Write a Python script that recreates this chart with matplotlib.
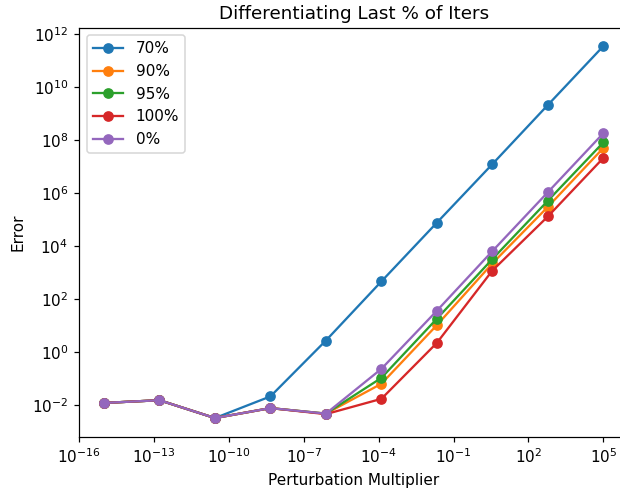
import numpy as np
import matplotlib
matplotlib.use("Agg")
import matplotlib.pyplot as plt

# Perturbation multipliers (log-spaced from 1e-15 to 1e5)
multipliers = np.logspace(-15, 5, 10)

labels = ["70%", "90%", "95%", "100%", "0%"]

err_70 = [0.0119, 0.0151, 0.0032, 0.021, 2.7, 460, 7.6e4, 1.23e7, 2.1e9, 3.5e11]
err_90 = [0.0119, 0.0151, 0.0032, 0.0076, 0.0047, 0.063, 10.3, 2200, 3.0e5, 5.0e7]
err_95 = [0.0119, 0.0151, 0.0032, 0.0076, 0.0047, 0.105, 18, 3200, 5.1e5, 8.1e7]
err_100 = [0.0119, 0.0151, 0.0032, 0.0076, 0.0045, 0.017, 2.2, 1180, 1.3e5, 2.1e7]
err_0 = [0.0119, 0.0151, 0.0032, 0.0076, 0.0047, 0.23, 36, 6400, 1.07e6, 1.8e8]

series = [err_70, err_90, err_95, err_100, err_0]

DPI = 110
fig = plt.figure(figsize=(620 / DPI, 491 / DPI), dpi=DPI)
ax = fig.add_axes([79 / 620, 54 / 491, 549.3 / 620, 409.3 / 491])

for lab, vals in zip(labels, series):
    ax.plot(multipliers, vals, marker="o", label=lab)

ax.set_xscale("log")
ax.set_yscale("log")
ax.set_xticks([1e-16, 1e-13, 1e-10, 1e-7, 1e-4, 1e-1, 1e2, 1e5])
ax.set_yticks([1e-2, 1e0, 1e2, 1e4, 1e6, 1e8, 1e10, 1e12])
ax.minorticks_off()
ax.set_xlim(1e-16, 1e6)
ax.set_ylim(10 ** -3.21, 10 ** 12.24)

ax.set_title("Differentiating Last % of Iters")
ax.set_xlabel("Perturbation Multiplier")
ax.set_ylabel("Error")
ax.legend(loc="upper left")

fig.savefig("out.png", dpi=DPI)
